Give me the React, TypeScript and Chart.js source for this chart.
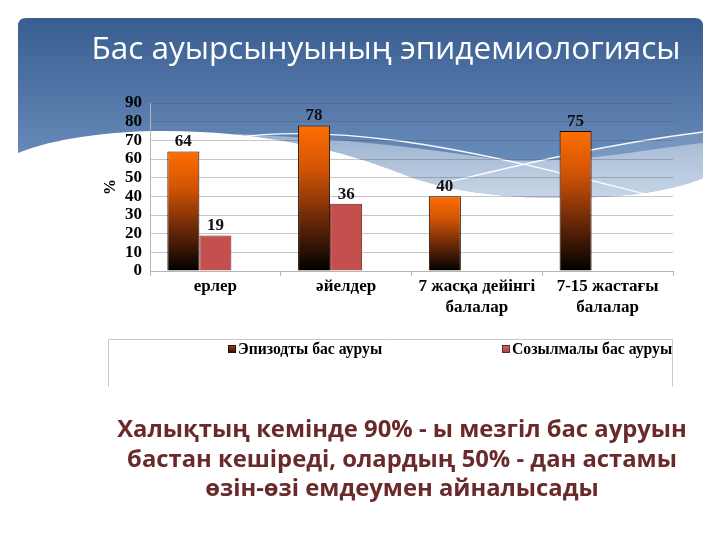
import React, { useEffect, useRef } from "react";
import { Chart, registerables } from "chart.js";

Chart.register(...registerables);

const categories: string[][] = [
  ["ерлер"],
  ["әйелдер"],
  ["7 жасқа дейінгі", "балалар"],
  ["7-15 жастағы", "балалар"],
];
const seriesNames: string[] = ["Эпизодты бас ауруы", "Созылмалы бас ауруы", ""];
const episodic: (number | null)[] = [64, 78, 40, 75];
const chronic: (number | null)[] = [19, 36, null, null];
const emptySeries: (number | null)[] = [null, null, null, null];
const yMin = 0;
const yMax = 90;
const yStep = 10;

const titleText = "Бас ауырсынуының эпидемиологиясы";
const captionLines: string[] = [
  "Халықтың кемінде 90% - ы мезгіл бас ауруын",
  "бастан кешіреді, олардың 50% - дан астамы",
  "өзін-өзі емдеумен айналысады",
];

const SERIF = "'Liberation Serif', 'Times New Roman', serif";

const backgroundPlugin = {
  id: "slideBackground",
  beforeDraw(chart: any) {
    const ctx = chart.ctx as CanvasRenderingContext2D;
    ctx.save();
    ctx.fillStyle = "#ffffff";
    ctx.fillRect(0, 0, chart.width, chart.height);

    const g = ctx.createLinearGradient(0, 18, 0, 200);
    g.addColorStop(0, "#3a5d91");
    g.addColorStop(1, "#7498c5");
    ctx.beginPath();
    ctx.moveTo(18, 26);
    ctx.quadraticCurveTo(18, 18, 26, 18);
    ctx.lineTo(695, 18);
    ctx.quadraticCurveTo(703, 18, 703, 26);
    ctx.lineTo(703, 178);
    ctx.bezierCurveTo(670, 192, 620, 198, 560, 198);
    ctx.bezierCurveTo(500, 198, 440, 190, 400, 173);
    ctx.bezierCurveTo(340, 150, 280, 136, 200, 132);
    ctx.bezierCurveTo(130, 128, 60, 136, 18, 153);
    ctx.closePath();
    ctx.fillStyle = g;
    ctx.fill();

    ctx.save();
    ctx.clip();
    ctx.beginPath();
    ctx.moveTo(205, 133);
    ctx.bezierCurveTo(320, 136, 420, 147, 500, 160);
    ctx.bezierCurveTo(580, 164, 640, 150, 703, 143);
    ctx.lineTo(703, 260);
    ctx.lineTo(200, 260);
    ctx.closePath();
    const bg = ctx.createLinearGradient(0, 135, 0, 200);
    bg.addColorStop(0, "rgba(215,225,236,0.5)");
    bg.addColorStop(1, "rgba(225,232,240,0.75)");
    ctx.fillStyle = bg;
    ctx.fill();
    ctx.beginPath();
    ctx.moveTo(440, 184);
    ctx.bezierCurveTo(520, 166, 600, 146, 703, 133);
    ctx.lineTo(703, 260);
    ctx.lineTo(440, 260);
    ctx.closePath();
    ctx.fillStyle = "rgba(210,222,236,0.18)";
    ctx.fill();
    ctx.restore();

    ctx.strokeStyle = "rgba(255,255,255,0.95)";
    ctx.lineWidth = 1.3;
    ctx.beginPath();
    ctx.moveTo(232, 138);
    ctx.bezierCurveTo(280, 131, 340, 133, 400, 141);
    ctx.bezierCurveTo(480, 152, 570, 175, 645, 194);
    ctx.stroke();
    ctx.beginPath();
    ctx.moveTo(440, 184);
    ctx.bezierCurveTo(520, 165, 600, 145, 703, 132);
    ctx.stroke();
    ctx.restore();
  },
  afterDatasetsDraw(chart: any) {
    const ctx = chart.ctx as CanvasRenderingContext2D;
    ctx.save();
    ctx.font = `bold 17px ${SERIF}`;
    ctx.fillStyle = "#111111";
    ctx.textAlign = "center";
    ctx.textBaseline = "bottom";
    chart.data.datasets.forEach((ds: any, di: number) => {
      const meta = chart.getDatasetMeta(di);
      meta.data.forEach((el: any, i: number) => {
        const v = ds.data[i];
        if (v === null || v === undefined) return;
        ctx.fillText(String(v), el.x, el.y - 1);
      });
    });
    ctx.restore();
  },
  afterDraw(chart: any) {
    const ctx = chart.ctx as CanvasRenderingContext2D;
    ctx.save();
    ctx.strokeStyle = "#c9c9c9";
    ctx.lineWidth = 1;
    ctx.beginPath();
    ctx.moveTo(108.5, 387);
    ctx.lineTo(108.5, 339.5);
    ctx.lineTo(672.5, 339.5);
    ctx.lineTo(672.5, 387);
    ctx.stroke();
    const items = [
      { x: 228, stroke: "#2a0e04" },
      { x: 502, stroke: "#6a2a28" },
    ];
    ctx.font = `bold 15.7px ${SERIF}`;
    ctx.textBaseline = "middle";
    ctx.textAlign = "left";
    items.forEach((it, i) => {
      const lg = ctx.createLinearGradient(0, 345, 0, 353);
      if (i === 0) {
        lg.addColorStop(0, "#a04510");
        lg.addColorStop(1, "#2a0e04");
      } else {
        lg.addColorStop(0, "#c86a66");
        lg.addColorStop(1, "#9a4542");
      }
      ctx.fillStyle = lg;
      ctx.fillRect(it.x, 345, 8, 8);
      ctx.strokeStyle = it.stroke;
      ctx.strokeRect(it.x + 0.5, 345.5, 7, 7);
      ctx.fillStyle = "#000000";
      ctx.fillText(seriesNames[i], it.x + 10, 350);
    });
    ctx.restore();
  },
};

function episodicFill(context: any) {
  const chart = context.chart;
  const y = chart.scales?.y;
  if (!chart.chartArea || !y || context.parsed == null) return "#c85006";
  const v = context.parsed.y;
  if (v == null) return "#c85006";
  const top = y.getPixelForValue(v);
  const base = y.getPixelForValue(0);
  const g = chart.ctx.createLinearGradient(0, top, 0, base);
  g.addColorStop(0, "#ff6e00");
  g.addColorStop(0.3, "#d25405");
  g.addColorStop(0.65, "#6a2808");
  g.addColorStop(1, "#000000");
  return g;
}

export default function App() {
  const ref = useRef<HTMLCanvasElement | null>(null);

  useEffect(() => {
    if (!ref.current) return;
    const chart = new Chart(ref.current, {
      type: "bar",
      data: {
        labels: categories,
        datasets: [
          {
            label: seriesNames[0],
            data: episodic,
            backgroundColor: episodicFill,
            borderColor: "#1a0800",
            borderWidth: 1,
            categoryPercentage: 0.735,
            barPercentage: 1,
          },
          {
            label: seriesNames[1],
            data: chronic,
            backgroundColor: "#c4504d",
            borderColor: "#6e2220",
            borderWidth: 1,
            categoryPercentage: 0.735,
            barPercentage: 1,
          },
          {
            label: seriesNames[2],
            data: emptySeries,
            backgroundColor: "rgba(0,0,0,0)",
            categoryPercentage: 0.735,
            barPercentage: 1,
          },
        ],
      },
      options: {
        responsive: false,
        animation: false,
        layout: { padding: { left: 97, right: 47, top: 103, bottom: 209 } },
        plugins: {
          legend: { display: false },
          tooltip: { enabled: false },
          title: { display: false },
        },
        scales: {
          x: {
            grid: {
              drawOnChartArea: false,
              drawTicks: true,
              tickLength: 5,
              color: "#b5b5b5",
            },
            border: { display: true, color: "#b5b5b5" },
            ticks: {
              color: "#000000",
              padding: 0.5,
              font: { family: SERIF, size: 17, weight: "bold", lineHeight: 1.235 },
            },
            afterFit: (s: any) => {
              s.height = 60;
            },
          },
          y: {
            min: yMin,
            max: yMax,
            grid: {
              drawTicks: false,
              color: "rgba(80,80,80,0.32)",
            },
            border: { display: true, color: "#b5b5b5" },
            ticks: {
              stepSize: yStep,
              autoSkip: false,
              color: "#000000",
              padding: 8,
              font: { family: SERIF, size: 17, weight: "bold" },
            },
            title: {
              display: true,
              text: "%",
              color: "#000000",
              font: { family: SERIF, size: 16, weight: "bold" },
            },
            afterFit: (s: any) => {
              s.width = 53;
            },
          },
        },
      },
      plugins: [backgroundPlugin],
    });
    return () => chart.destroy();
  }, []);

  return (
    <div style={{ position: "absolute", left: 0, top: 0, width: 720, height: 540, overflow: "hidden" }}>
      <canvas ref={ref} width={720} height={540} style={{ position: "absolute", left: 0, top: 0, width: 720, height: 540 }} />
      <div
        style={{
          position: "absolute",
          left: 0,
          width: 772,
          top: 24,
          textAlign: "center",
          color: "#ffffff",
          fontFamily: "'Open Sans', sans-serif",
          fontSize: 31.5,
          lineHeight: "46px",
          whiteSpace: "nowrap",
        }}
      >
        {titleText}
      </div>
      <div
        style={{
          position: "absolute",
          left: 0,
          width: 804,
          top: 414,
          textAlign: "center",
          color: "#6a2a2b",
          fontFamily: "'Open Sans', sans-serif",
          fontWeight: 700,
          fontSize: 23.8,
          lineHeight: "29.5px",
          whiteSpace: "nowrap",
        }}
      >
        {captionLines.map((l, i) => (
          <div key={i}>{l}</div>
        ))}
      </div>
    </div>
  );
}
